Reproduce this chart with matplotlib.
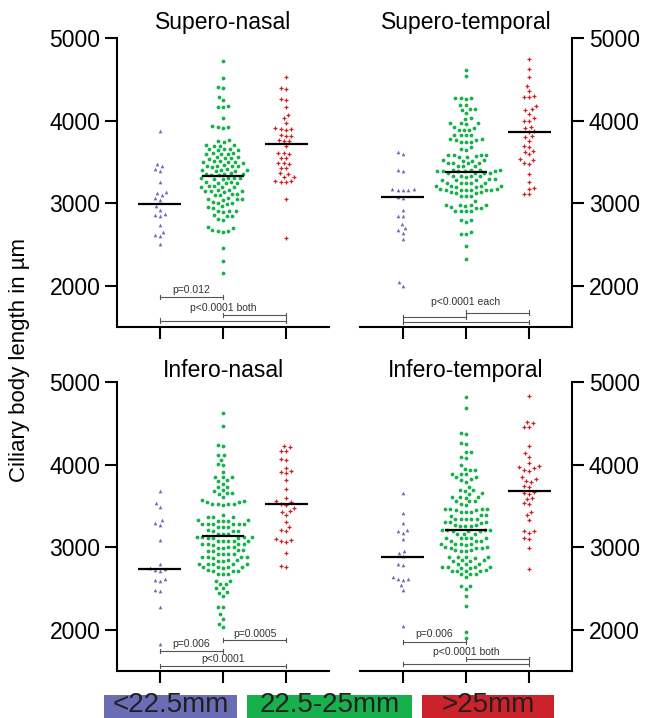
import numpy as np
import matplotlib
matplotlib.use('Agg')
import matplotlib.pyplot as plt
from matplotlib.patches import Rectangle

plt.rcParams['font.family'] = ['Liberation Sans', 'DejaVu Sans']

# ---- data (ciliary body length, um) ----
groups = ['<22.5mm', '22.5-25mm', '>25mm']
colors = ['#6a6db5', '#17b14b', '#cc2229']

sn_blue = [3870, 3470, 3450, 3410, 3390, 3260, 3140, 3120, 3100, 3060, 3040,
           2960, 2920, 2870, 2860, 2850, 2740, 2650, 2620, 2600, 2510]
sn_green = [4720, 4520, 4410, 4400, 4290, 4250, 4180, 4170, 4160, 4030,
            3930, 3925, 3920, 3915, 3760, 3750, 3745, 3705, 3700, 3695, 3690,
            3660, 3655, 3650, 3645, 3640, 3610, 3605, 3600, 3595, 3590,
            3560, 3555, 3550, 3545, 3540, 3510, 3505, 3500, 3500, 3495, 3490,
            3460, 3455, 3450, 3450, 3445, 3440, 3410, 3405, 3400, 3400, 3395, 3390,
            3360, 3355, 3350, 3350, 3345, 3340, 3310, 3305, 3300, 3300, 3295, 3290,
            3260, 3255, 3250, 3245, 3240, 3210, 3205, 3200, 3195, 3190,
            3160, 3155, 3150, 3150, 3145, 3140, 3110, 3105, 3100, 3095,
            3060, 3055, 3050, 3045, 3040, 3010, 3005, 3000, 2995,
            2960, 2950, 2945, 2910, 2905, 2900, 2895, 2860, 2850, 2845,
            2810, 2800, 2710, 2700, 2670, 2665, 2660, 2655, 2460, 2300, 2160]
sn_red = [4524, 4393, 4388, 4262, 4255, 4170, 4070, 4030, 3970, 3910, 3900,
          3895, 3890, 3820, 3815, 3810, 3760, 3755, 3750, 3690, 3610, 3605,
          3600, 3550, 3545, 3490, 3485, 3480, 3430, 3425, 3360, 3355, 3320,
          3315, 3270, 3265, 3260, 3255, 3055, 2575]
sn_medians = [2990, 3327, 3718]

st_blue = [3625, 3600, 3400, 3390, 3170, 3165, 3160, 3165, 3170, 3070, 3060,
           2915, 2850, 2845, 2750, 2700, 2670, 2640, 2565, 2050, 2000]
st_green = [4610, 4535, 4275, 4270, 4270, 4265, 4190, 4185, 4140, 4135, 4130,
            4090, 4030, 4025, 3970, 3965, 3965, 3960, 3920, 3915, 3890, 3885, 3880,
            3830, 3825, 3825, 3820, 3775, 3775, 3770, 3770, 3745, 3740, 3740,
            3680, 3650, 3645, 3585, 3585, 3580, 3580, 3565, 3560, 3560,
            3520, 3520, 3515, 3515, 3490, 3490, 3485, 3485, 3450, 3445, 3445,
            3405, 3405, 3400, 3400, 3390, 3390, 3385, 3385, 3385,
            3370, 3365, 3365, 3360, 3330, 3330, 3325, 3325, 3320,
            3290, 3290, 3285, 3285, 3280, 3250, 3250, 3245, 3245, 3240,
            3210, 3210, 3205, 3205, 3200, 3200,
            3170, 3170, 3165, 3165, 3160, 3160, 3155, 3155,
            3130, 3130, 3125, 3125, 3090, 3090, 3085, 3020,
            2980, 2980, 2975, 2975, 2970, 2950, 2945, 2945,
            2910, 2910, 2905, 2905, 2800, 2795, 2775, 2655, 2630, 2625, 2485, 2325]
st_red = [4745, 4620, 4530, 4420, 4360, 4300, 4290, 4285, 4180, 4140, 4130,
          4085, 4030, 4000, 3995, 3920, 3910, 3870, 3860, 3810, 3800, 3755,
          3695, 3685, 3635, 3625, 3590, 3535, 3525, 3485, 3475, 3350, 3260,
          3180, 3170, 3115, 3105]
st_medians = [3075, 3380, 3865]

in_blue = [3680, 3530, 3490, 3330, 3290, 3270, 3085, 2800, 2750, 2740, 2720,
           2710, 2610, 2600, 2590, 2485, 2470, 2275, 1830]
in_green = [4620, 4470, 4240, 4220, 4115, 4110, 4060, 4005, 4000, 3910,
            3850, 3850, 3845, 3810, 3805, 3770, 3730, 3725, 3690, 3685,
            3650, 3650, 3645, 3605, 3565, 3560, 3550, 3545,
            3525, 3525, 3520, 3520, 3515, 3385, 3365, 3360, 3360,
            3325, 3325, 3320, 3320, 3315, 3285, 3285, 3280, 3280, 3275, 3275,
            3245, 3240, 3240, 3205, 3200, 3200, 3195, 3160, 3160, 3155,
            3125, 3125, 3120, 3120, 3115, 3115, 3110,
            3080, 3080, 3075, 3075, 3070, 3040, 3040, 3035, 3035, 3030,
            3000, 3000, 2995, 2995, 2960, 2960, 2955, 2955,
            2920, 2920, 2915, 2915, 2880, 2880, 2875, 2875, 2870,
            2840, 2840, 2835, 2835, 2800, 2800, 2795, 2795, 2790,
            2760, 2760, 2755, 2755, 2750, 2720, 2715, 2715, 2710,
            2680, 2675, 2670, 2595, 2590, 2555, 2550, 2505, 2500,
            2455, 2450, 2410, 2280, 2275, 2185, 2130, 2070, 2030]
in_red = [4220, 4210, 4165, 4160, 4070, 4060, 3960, 3920, 3905, 3895, 3810,
          3710, 3590, 3555, 3545, 3525, 3515, 3470, 3440, 3425, 3390, 3305,
          3250, 3205, 3195, 3095, 3085, 3070, 3065, 2935, 2775, 2765]
in_medians = [2730, 3133, 3522]

it_blue = [3650, 3410, 3290, 3210, 3200, 3170, 3095, 2955, 2935, 2890, 2800,
           2780, 2640, 2620, 2610, 2600, 2540, 2480, 2050]
it_green = [4818, 4680, 4380, 4375, 4260, 4255, 4155, 4150, 4095, 4075, 3990,
            3950, 3930, 3930, 3890, 3890, 3885, 3850, 3845, 3820, 3815, 3790,
            3730, 3690, 3690, 3685, 3650, 3645, 3610, 3605, 3605, 3600,
            3560, 3555, 3555, 3525, 3505, 3465, 3465, 3460, 3460, 3455, 3455,
            3425, 3425, 3420, 3385, 3385, 3380, 3345, 3345, 3340, 3340, 3335,
            3305, 3300, 3300, 3295, 3265, 3265, 3260, 3260, 3255,
            3210, 3210, 3205, 3205, 3200, 3200, 3200, 3165, 3160, 3160,
            3115, 3115, 3110, 3110, 3105, 3080, 3080, 3075,
            3040, 3040, 3035, 3035, 3030, 3000, 3000, 2995, 2995, 2990,
            2960, 2960, 2955, 2955, 2880, 2880, 2875, 2875, 2870,
            2840, 2840, 2835, 2835, 2800, 2795, 2795,
            2760, 2760, 2755, 2755, 2750, 2750, 2720, 2715, 2715, 2710, 2710,
            2680, 2675, 2670, 2635, 2535, 2530, 2495, 2405, 2285, 1970, 1900]
it_red = [4825, 4520, 4500, 4460, 4450, 4220, 4135, 4095, 4015, 3980, 3970,
          3955, 3930, 3920, 3845, 3820, 3800, 3790, 3740, 3730, 3670, 3660,
          3645, 3590, 3585, 3530, 3525, 3430, 3390, 3330, 3200, 3190, 3175,
          3105, 3100, 2985, 2740]
it_medians = [2875, 3206, 3676]

# brackets: (from group, to group, level) and p-value labels: (text, x, level)
sn_brackets = [(0, 1, 1868), (1, 2, 1650), (0, 2, 1578)]
sn_labels = [('p=0.012', 0.5, 1950), ('p<0.0001 both', 1, 1736)]
st_brackets = [(1, 2, 1675), (0, 1, 1625), (0, 2, 1565)]
st_labels = [('p<0.0001 each', 1, 1808)]
in_brackets = [(1, 2, 1877), (0, 1, 1744), (0, 2, 1562)]
in_labels = [('p=0.0005', 1.5, 1950), ('p=0.006', 0.5, 1830), ('p<0.0001', 1, 1647)]
it_brackets = [(0, 1, 1853), (1, 2, 1647), (0, 2, 1585)]
it_labels = [('p=0.006', 0.5, 1950), ('p<0.0001 both', 1, 1732)]

W, H = 646, 718
YMIN, YMAX = 1500, 5000
XMIN, XMAX = -0.68, 2.68


def swarm_offsets(values, d, y_scale):
    # simple beeswarm in pixel space, returns x offsets in px
    ys = np.asarray(values, float) * y_scale
    order = np.argsort(ys)
    px_list, py_list = [], []
    xs = np.zeros(len(ys))
    for i in order:
        y = ys[i]
        cands = [0.0]
        intervals = []
        for px, py in zip(px_list, py_list):
            dy = abs(py - y)
            if dy < d:
                dx = np.sqrt(d * d - dy * dy)
                intervals.append((px - dx, px + dx))
                cands += [px - dx, px + dx]
        best = 0.0
        for c in sorted(cands, key=abs):
            if all(not (lo + 1e-6 < c < hi - 1e-6) for lo, hi in intervals):
                best = c
                break
        xs[i] = best
        px_list.append(best)
        py_list.append(y)
    return xs


fig = plt.figure(figsize=(W / 100, H / 100), dpi=100)

panels = [
    ('Supero-nasal', [sn_blue, sn_green, sn_red], sn_medians, sn_brackets, sn_labels, 117, 38, 'left'),
    ('Supero-temporal', [st_blue, st_green, st_red], st_medians, st_brackets, st_labels, 360, 38, 'right'),
    ('Infero-nasal', [in_blue, in_green, in_red], in_medians, in_brackets, in_labels, 117, 382, 'left'),
    ('Infero-temporal', [it_blue, it_green, it_red], it_medians, it_brackets, it_labels, 360, 382, 'right'),
]
markers = ['^', 'o', '+']
sizes = [7, 7.5, 12]

for title, data, meds, brackets, labels, x0, y0, side in panels:
    w_px, h_px = 212, 289
    ax = fig.add_axes([x0 / W, 1 - (y0 + h_px) / H, w_px / W, h_px / H])
    ax.set_xlim(XMIN, XMAX)
    ax.set_ylim(YMIN, YMAX)
    y_scale = h_px / (YMAX - YMIN)
    x_scale = w_px / (XMAX - XMIN)

    for k, vals in enumerate(data):
        off = swarm_offsets(vals, 5.4, y_scale) / x_scale
        if markers[k] == '+':
            ax.scatter(k + off, vals, marker='+', s=sizes[k], c=colors[k], linewidths=0.9, clip_on=False)
        else:
            ax.scatter(k + off, vals, marker=markers[k], s=sizes[k], c=colors[k], linewidths=0, clip_on=False)
        ax.hlines(meds[k], k - 0.34, k + 0.34, color='black', lw=1.6, zorder=3)

    for a, b, lev in brackets:
        ax.plot([a, b], [lev, lev], color='#555555', lw=0.8, clip_on=False)
        for xe in (a, b):
            ax.plot([xe, xe], [lev - 25, lev + 25], color='#555555', lw=0.8, clip_on=False)
    for txt, xt, lev in labels:
        ax.text(xt, lev, txt, ha='center', va='center', fontsize=7.5, color='#333333')

    ax.set_xticks([0, 1, 2])
    ax.set_xticklabels([])
    ax.set_yticks([2000, 3000, 4000, 5000])
    ax.tick_params(length=8.5, width=1.5, labelsize=16.5, pad=3.5, color='black')
    ax.spines['top'].set_visible(False)
    if side == 'left':
        ax.spines['right'].set_visible(False)
    else:
        ax.spines['left'].set_visible(False)
        ax.yaxis.tick_right()
    for s in ax.spines.values():
        s.set_linewidth(1.5)

    ty = 29 if y0 < 100 else 377
    cx = x0 + (1 - XMIN) * x_scale
    fig.text(cx / W, 1 - ty / H, title, ha='center', va='baseline', fontsize=16.5)

fig.text(20 / W, 1 - 360 / H, 'Ciliary body length in µm', rotation=90,
         ha='center', va='center', fontsize=16)

# colour legend boxes at the bottom
boxes = [(104, 237), (247, 412), (422, 554)]
for (bx0, bx1), label, col in zip(boxes, groups, colors):
    fig.add_artist(Rectangle((bx0 / W, 0), (bx1 - bx0) / W, 23 / H,
                             transform=fig.transFigure, color=col, lw=0))
    fig.text((bx0 + bx1) / 2 / W, 1 - 705.5 / H, label, ha='center', va='center',
             fontsize=20, color='#231f20')

fig.savefig('out.png', dpi=100)
